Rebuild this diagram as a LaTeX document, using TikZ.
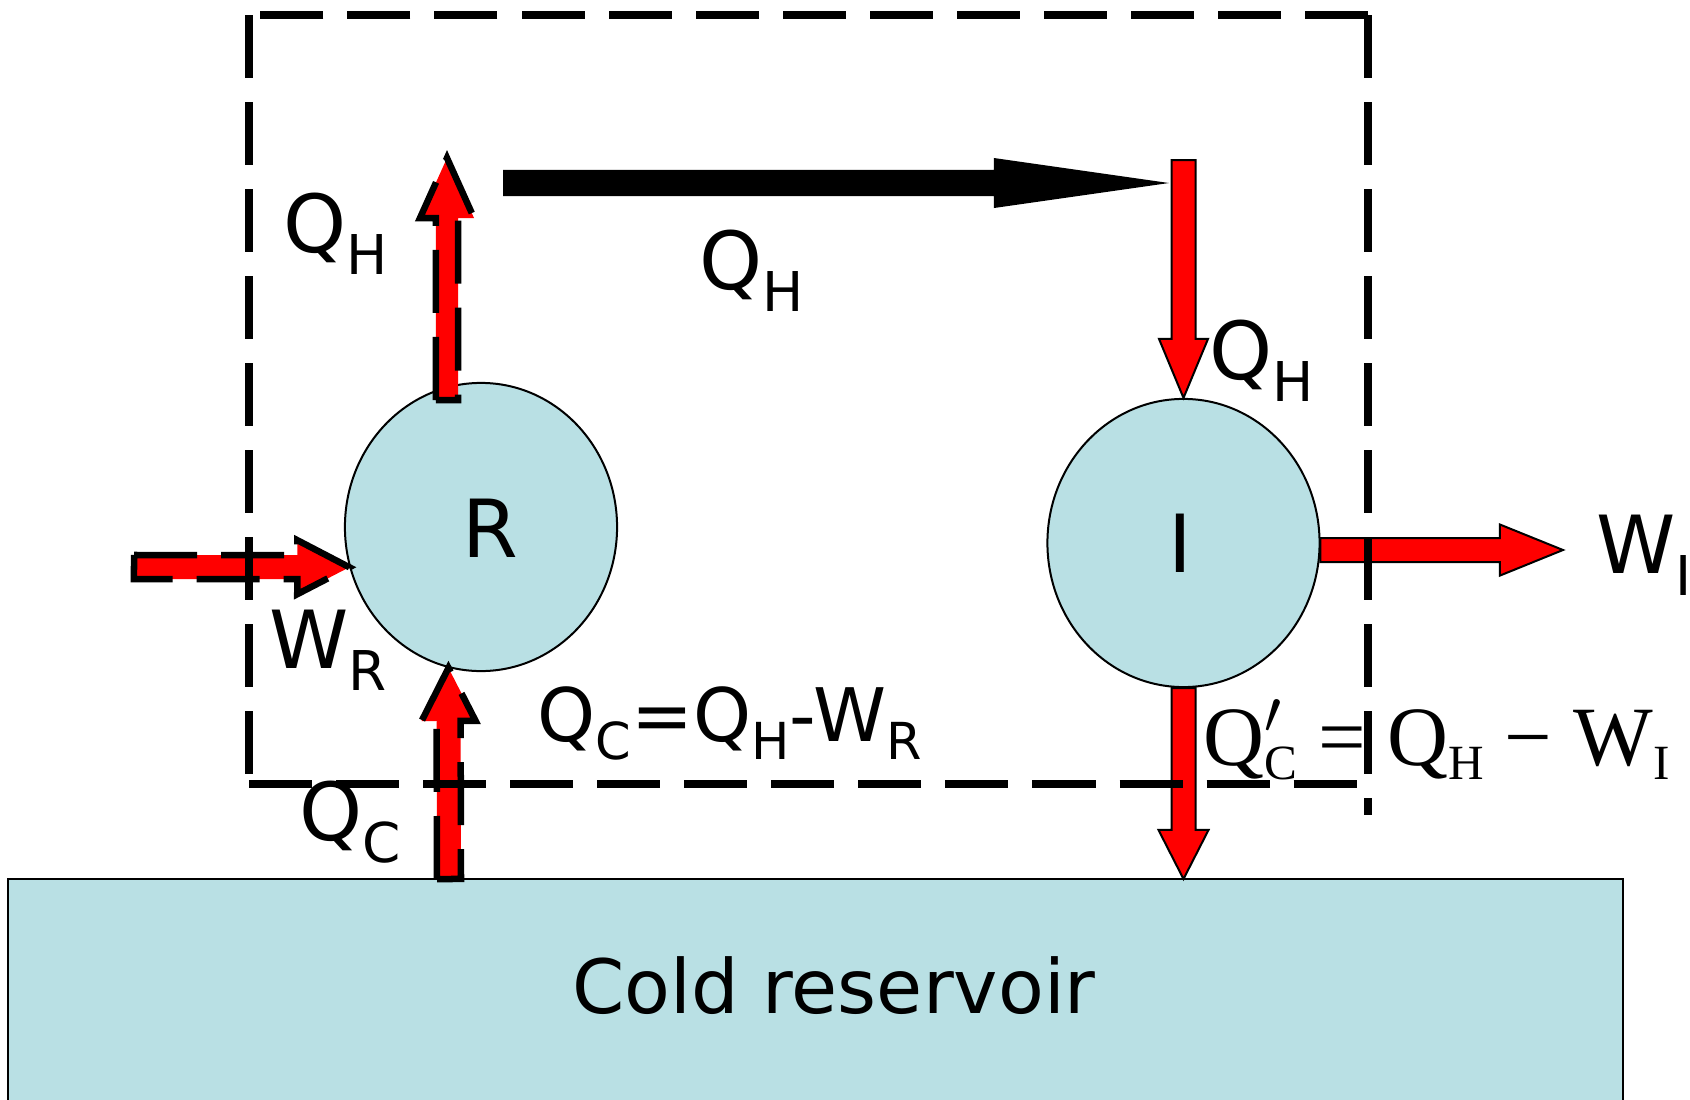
\documentclass[tikz,border=0pt]{standalone}
\usepackage{fontspec}
\setmainfont{DejaVu Sans}
\newfontfamily\serifQ{Liberation Serif}
\usetikzlibrary{calc,shapes.geometric}
\definecolor{resblue}{RGB}{185,224,228}
\newcommand\subA[1]{\raisebox{-0.22cm}{\fontsize{15.6pt}{18pt}\selectfont #1}}
\newcommand\subB[1]{\raisebox{-0.18cm}{\fontsize{14.5pt}{17pt}\selectfont #1}}
\newcommand\subC[1]{\raisebox{-0.14cm}{\fontsize{14pt}{17pt}\selectfont #1}}
% block arrow: style, start, tip, half shaft, half head, head length
\newcommand\barrow[6]{%
  \coordinate (barrowbase) at ($(#3)!#6!(#2)$);
  \path[#1] ($(#2)!#4!90:(#3)$) -- ($(barrowbase)!#4!90:(#3)$) -- ($(barrowbase)!#5!90:(#3)$) -- (#3)
     -- ($(barrowbase)!#5!-90:(#3)$) -- ($(barrowbase)!#4!-90:(#3)$) -- ($(#2)!#4!-90:(#3)$) -- cycle;}
\tikzset{
  boxdash/.style={line width=0.08cm, dash pattern=on 0.63cm off 0.24cm},
  outdash/.style={draw=black, line width=0.065cm, dash pattern=on 0.63cm off 0.24cm},
  redarr/.style={fill=red, draw=black, line width=0.02cm},
  reddash/.style={fill=red, outdash},
  blackarr/.style={fill=black},
  disc/.style={ellipse, draw=black, line width=0.02cm, fill=resblue, minimum width=2.72cm, minimum height=2.88cm, inner sep=0pt},
  lbl/.style={inner sep=0pt, anchor=base west, font=\fontsize{22.8pt}{27pt}\selectfont},
}
\begin{document}
\begin{tikzpicture}[x=0.01cm,y=-0.01cm]
\useasboundingbox (0,0) rectangle (1690,1100);
\clip (0,0) rectangle (1690,1100);
\fill[white] (0,0) rectangle (1690,1100);
% reservoir and engines
\node[draw=black, line width=0.02cm, fill=resblue, minimum width=16.15cm, minimum height=2.31cm, inner sep=0pt] (cold) at (815.5,994.5) {};
\node[disc] (R) at (481,527) {};
\node[disc] (I) at (1183.5,543) {};
% coordinates for arrow ends
\coordinate (qhAs) at (447,400);
\coordinate (qhAt) at (447,158);
\coordinate (wrS) at (134,567);
\coordinate (qcS) at (449,879);
\coordinate (bS) at (503,183);
\coordinate (bT) at (1169,183);
\coordinate (iS) at (1183.5,160);
\coordinate (wiT) at (1563,550);
\coordinate (qcpT) at (1183.5,879);
% arrows
\barrow{reddash}{qhAs}{qhAt}{0.11cm}{0.27cm}{0.6cm}
\barrow{reddash}{wrS}{R.197}{0.12cm}{0.27cm}{0.52cm}
\barrow{reddash}{qcS}{R.257}{0.12cm}{0.27cm}{0.53cm}
\barrow{blackarr}{bS}{bT}{0.13cm}{0.25cm}{1.75cm}
\barrow{redarr}{iS}{I.north}{0.12cm}{0.245cm}{0.59cm}
\barrow{redarr}{I.357}{wiT}{0.12cm}{0.255cm}{0.63cm}
\barrow{redarr}{I.south}{qcpT}{0.12cm}{0.25cm}{0.49cm}
% labels
\node[lbl, anchor=base] (tR) at (490,557) {R};
\node[lbl, anchor=base] (tI) at (1180,572) {I};
\node[lbl] (tQH1) at (283,252) {Q\subA{H}};
\node[lbl] (tQH2) at (699,289) {Q\subA{H}};
\node[lbl] (tQH3) at (1209,379) {Q\subA{H}};
\node[lbl] (tWR) at (269,668) {W\subA{R}};
\node[lbl] (tQC) at (299,840) {Q\subA{C}};
\node[lbl] (tWI) at (1596,573) {W\subA{I}};
\node[lbl, font=\fontsize{21pt}{25pt}\selectfont] (tform) at (537,741) {Q\subB{C}=Q\subB{H}-W\subB{R}};
\node[inner sep=0pt, anchor=base west, font=\serifQ\fontsize{24pt}{28pt}\selectfont] (tform2) at (1203,765) {Q\rlap{$'$}\subC{C} = Q\subC{H} − W\subC{I}};
\node[inner sep=0pt, anchor=base, font=\fontsize{21.3pt}{25pt}\selectfont] (tcold) at (834,1013) {Cold reservoir};
% dashed system boundary
\draw[boxdash] (1368,15) -- (249,15);
\draw[boxdash] (249,15) -- (249,784);
\draw[boxdash] (249,784) -- (1360,784);
\draw[boxdash] (1368,15) -- (1368,815);
\end{tikzpicture}
\end{document}
